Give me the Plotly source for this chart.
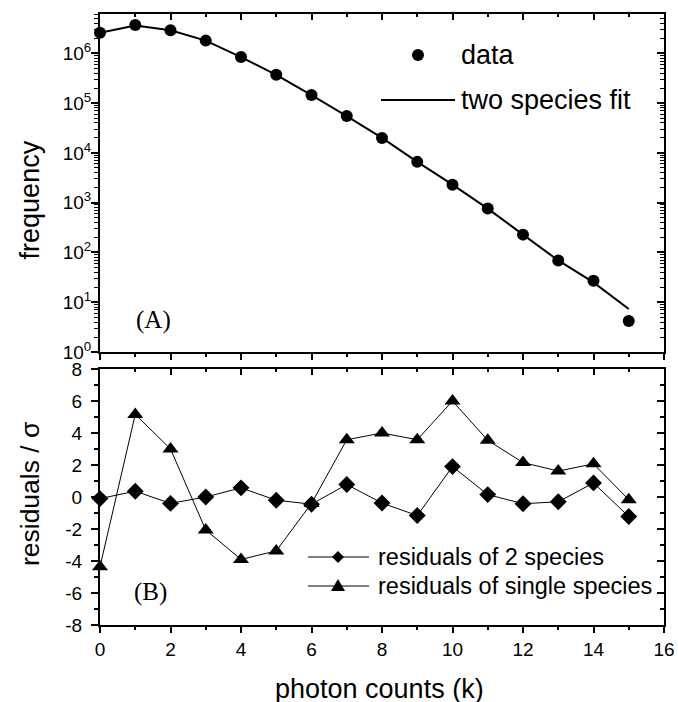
import plotly.graph_objects as go

# photon counts k
k = list(range(16))

# panel A: measured histogram and two species fit
freq_data = [2.6e6, 3.7e6, 2.9e6, 1.8e6, 8.4e5, 3.7e5, 1.45e5, 5.5e4,
             2.0e4, 6.6e3, 2.3e3, 760, 228, 69, 27, 4.2]
freq_fit = [2.6e6, 3.6e6, 2.9e6, 1.8e6, 8.4e5, 3.7e5, 1.45e5, 5.5e4,
            2.0e4, 6.6e3, 2.3e3, 760, 228, 69, 25, 7.3]

# panel B: residuals / sigma
res_two = [-0.1, 0.36, -0.4, 0.0, 0.57, -0.2, -0.45, 0.78,
           -0.38, -1.16, 1.9, 0.15, -0.42, -0.3, 0.88, -1.22]
res_single = [-4.36, 5.16, 3.0, -2.06, -3.9, -3.37, -0.4, 3.58,
              4.0, 3.58, 6.0, 3.54, 2.15, 1.62, 2.07, -0.17]

decades = list(range(0, 7))
log_minor = [m * 10 ** e for e in range(0, 7) for m in range(2, 10)]
res_ticks = list(range(-8, 9, 2))

FONT = "Liberation Sans, Arial, sans-serif"
SERIF = "Liberation Serif, Times New Roman, serif"
TICKF = dict(family=FONT, size=19, color="black")

fig = go.Figure()

fig.add_trace(go.Scatter(x=k, y=freq_fit, mode="lines",
                         line=dict(color="black", width=2),
                         xaxis="x", yaxis="y", showlegend=False))
fig.add_trace(go.Scatter(x=k, y=freq_data, mode="markers",
                         marker=dict(symbol="circle", size=12, color="black"),
                         xaxis="x", yaxis="y", showlegend=False, cliponaxis=False))

fig.add_trace(go.Scatter(x=k, y=res_two, mode="lines+markers",
                         line=dict(color="black", width=1),
                         marker=dict(symbol="diamond", size=13, color="black"),
                         xaxis="x2", yaxis="y2", showlegend=False, cliponaxis=False))
fig.add_trace(go.Scatter(x=k, y=res_single, mode="lines+markers",
                         line=dict(color="black", width=1),
                         marker=dict(symbol="triangle-up", size=14, color="black"),
                         xaxis="x2", yaxis="y2", showlegend=False, cliponaxis=False))

# empty traces so that the inner-tick overlay axes get drawn
fig.add_trace(go.Scatter(x=[None], y=[None], xaxis="x3", yaxis="y3",
                         showlegend=False, hoverinfo="skip"))
fig.add_trace(go.Scatter(x=[None], y=[None], xaxis="x4", yaxis="y4",
                         showlegend=False, hoverinfo="skip"))

xcommon = dict(range=[0, 16], dtick=2, tick0=0, showgrid=False, zeroline=False,
               tickcolor="black", tickwidth=2, tickfont=TICKF, automargin=False)
ytop_range = [0, 6.79]

fig.update_layout(
    template="none",
    width=678, height=702,
    margin=dict(l=100, r=14, t=14, b=77),
    paper_bgcolor="white", plot_bgcolor="white",
    font=dict(family=FONT, color="black"),
    xaxis=dict(**xcommon, domain=[0, 1], anchor="y", showticklabels=False,
               ticks="outside", ticklen=6, showline=True, linewidth=2,
               linecolor="black", mirror=True,
               minor=dict(dtick=1, ticks="outside", ticklen=3, tickwidth=2,
                          tickcolor="black")),
    yaxis=dict(type="log", range=ytop_range, domain=[0.4468, 1], anchor="x",
               tickvals=[10 ** d for d in decades],
               ticktext=["10<sup>%d</sup>" % d for d in decades],
               ticks="outside", ticklen=7, tickwidth=2, tickcolor="black",
               tickfont=TICKF, showgrid=False, zeroline=False, automargin=False,
               ticklabelstandoff=-4,
               showline=True, linewidth=2, linecolor="black", mirror=True,
               minor=dict(tickvals=log_minor, ticks="outside", ticklen=4,
                          tickwidth=1, tickcolor="black")),
    xaxis2=dict(**xcommon, domain=[0, 1], anchor="y2", showticklabels=True,
                ticks="outside", ticklen=6, showline=True, linewidth=2,
                linecolor="black", mirror=True,
                minor=dict(dtick=1, ticks="outside", ticklen=3, tickwidth=2,
                           tickcolor="black")),
    yaxis2=dict(range=[-8, 8], domain=[0, 0.419], anchor="x2",
                tickvals=res_ticks, ticktext=[str(v) for v in res_ticks],
                ticks="outside", ticklen=7, tickwidth=2, tickcolor="black",
                tickfont=TICKF, showgrid=False, zeroline=False, automargin=False,
                ticklabelstandoff=5,
                showline=True, linewidth=2, linecolor="black", mirror=True,
                minor=dict(dtick=1, ticks="outside", ticklen=4, tickwidth=2,
                           tickcolor="black")),
    xaxis3=dict(**xcommon, overlaying="x", anchor="y", side="top",
                showticklabels=False, ticks="inside", ticklen=6, showline=False,
                minor=dict(dtick=1, ticks="inside", ticklen=3, tickwidth=2,
                           tickcolor="black")),
    yaxis3=dict(type="log", range=ytop_range, overlaying="y", anchor="x",
                side="right", tickvals=[10 ** d for d in decades],
                showticklabels=False, ticks="inside", ticklen=7, tickwidth=2,
                tickcolor="black", showgrid=False, zeroline=False, showline=False,
                automargin=False,
                minor=dict(tickvals=log_minor, ticks="inside", ticklen=4,
                           tickwidth=1, tickcolor="black")),
    xaxis4=dict(**xcommon, overlaying="x2", anchor="y2", side="top",
                showticklabels=False, ticks="inside", ticklen=6, showline=False,
                minor=dict(dtick=1, ticks="inside", ticklen=3, tickwidth=2,
                           tickcolor="black")),
    yaxis4=dict(range=[-8, 8], dtick=2, overlaying="y2", anchor="x2",
                side="right", showticklabels=False, ticks="inside", ticklen=7,
                tickwidth=2, tickcolor="black", showgrid=False, zeroline=False,
                showline=False, automargin=False,
                minor=dict(dtick=1, ticks="inside", ticklen=4, tickwidth=2,
                           tickcolor="black")),
)

CENTER = dict(xanchor="center", yanchor="middle", showarrow=False)

# axis titles
fig.add_annotation(text="frequency", xref="paper", yref="paper",
                   x=-0.124, y=0.695, textangle=-90, **CENTER,
                   font=dict(family=FONT, size=27))
fig.add_annotation(text="residuals / \u03c3", xref="paper", yref="paper",
                   x=-0.124, y=0.2144, textangle=-90, **CENTER,
                   font=dict(family=FONT, size=26.5))
fig.add_annotation(text="photon counts (k)", xref="paper", yref="paper",
                   x=0.496, y=-0.104, **CENTER,
                   font=dict(family=FONT, size=27))

# panel labels
fig.add_annotation(text="(A)", xref="x domain", yref="y domain",
                   x=0.094, y=0.095, **CENTER,
                   font=dict(family=SERIF, size=25))
fig.add_annotation(text="(B)", xref="x2 domain", yref="y2 domain",
                   x=0.089, y=0.129, **CENTER,
                   font=dict(family=SERIF, size=25))

# legend of panel A
fig.add_shape(type="circle", xref="x domain", yref="y domain",
              xsizemode="pixel", ysizemode="pixel", xanchor=0.5638, yanchor=0.8787,
              x0=-6, x1=6, y0=-6, y1=6, fillcolor="black", line=dict(width=0))
fig.add_shape(type="line", xref="x domain", yref="y domain",
              x0=0.4982, x1=0.6294, y0=0.7456, y1=0.7456,
              line=dict(color="black", width=2))
fig.add_annotation(text="data", xref="x domain", yref="y domain",
                   x=0.636, y=0.8787, xanchor="left", yanchor="middle",
                   showarrow=False, font=dict(family=FONT, size=27))
fig.add_annotation(text="two species fit", xref="x domain", yref="y domain",
                   x=0.636, y=0.7456, xanchor="left", yanchor="middle",
                   showarrow=False, font=dict(family=FONT, size=27))

# legend of panel B
for ylev, path, label in [
        (0.2656, "M0,-6 L6,0 L0,6 L-6,0 Z", "residuals of 2 species"),
        (0.1523, "M-7,-5 L7,-5 L0,7 Z", "residuals of single species")]:
    fig.add_shape(type="line", xref="x2 domain", yref="y2 domain",
                  x0=0.3688, x1=0.477, y0=ylev, y1=ylev,
                  line=dict(color="black", width=1))
    fig.add_shape(type="path", xref="x2 domain", yref="y2 domain",
                  xsizemode="pixel", ysizemode="pixel", xanchor=0.422, yanchor=ylev,
                  path=path, fillcolor="black", line=dict(width=0))
    fig.add_annotation(text=label, xref="x2 domain", yref="y2 domain",
                       x=0.489, y=ylev, xanchor="left", yanchor="middle",
                       showarrow=False, font=dict(family=FONT, size=23.5))

# drop the page's default body margin so the figure fills the window
fig.write_html("out.html", config={"displayModeBar": False},
               post_script="document.body.style.margin='0';"
                           "document.body.style.overflow='hidden';")
